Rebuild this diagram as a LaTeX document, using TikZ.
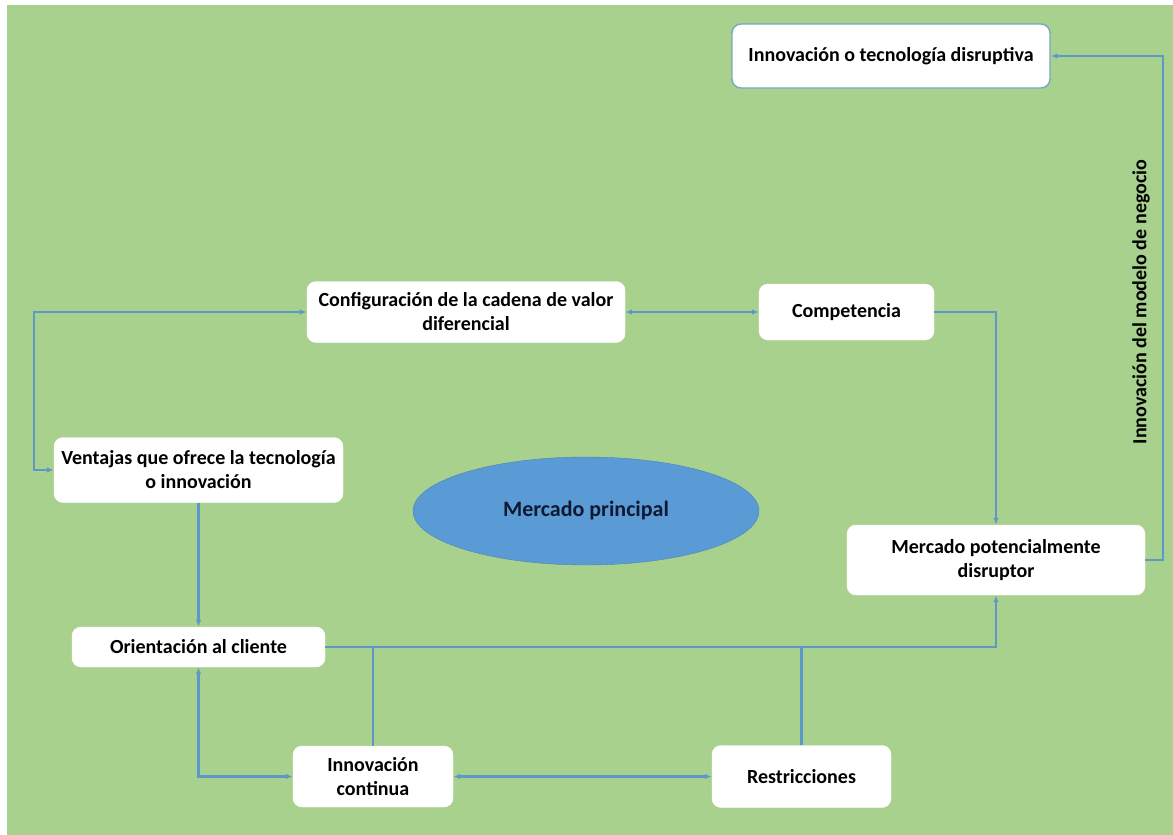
\documentclass[tikz,border=0pt]{standalone}
\usepackage{fontspec}
\setmainfont{Carlito}
\usetikzlibrary{arrows.meta, positioning, shapes.geometric}
\definecolor{bggreen}{RGB}{169,209,142}
\definecolor{linkblue}{RGB}{94,152,200}
\definecolor{ovalblue}{RGB}{91,155,213}
\definecolor{boxedge}{RGB}{120,165,195}
\definecolor{ovaltext}{RGB}{15,25,50}

\begin{document}
\begin{tikzpicture}[
    x=1pt, y=-1pt,
    block/.style={
        rectangle,
        draw=white,
        fill=white,
        rounded corners=9pt,
        inner sep=2pt,
        align=center,
        font=\bfseries\fontsize{20}{24}\selectfont
    },
    oval/.style={
        ellipse,
        draw=ovalblue!85!black,
        fill=ovalblue,
        text=ovaltext,
        font=\bfseries\fontsize{22}{26}\selectfont
    },
    arrow/.style={-{Latex[length=7pt,width=5.5pt]}, line width=2.2pt, color=linkblue},
    dblarrow/.style={{Latex[length=7pt,width=5.5pt]}-{Latex[length=7pt,width=5.5pt]}, line width=2.2pt, color=linkblue},
    link/.style={line width=2.2pt, color=linkblue}
]

% page and background
\fill[white] (0,0) rectangle (1173,835);
\fill[bggreen] (7,5) rectangle (1173,835);
\useasboundingbox (0,0) rectangle (1173,835);

\node[block, draw=boxedge, line width=1.4pt, minimum width=318pt, minimum height=64pt] (disruptiva) at (891,56) {Innovación o tecnología disruptiva};
\node[block, minimum width=318pt, minimum height=61pt] (config) at (466,312) {Configuración de la cadena de valor\\diferencial};
\node[block, minimum width=175pt, minimum height=56pt] (competencia) at (846.5,312) {Competencia};
\node[block, minimum width=289pt, minimum height=65pt] (ventajas) at (198.5,470) {Ventajas que ofrece la tecnología\\o innovación};
\node[oval, minimum width=346pt, minimum height=108pt] (principal) at (586,511) {Mercado principal};
\node[block, minimum width=298pt, minimum height=70pt] (potencial) at (996,560) {Mercado potencialmente\\disruptor};
\node[block, minimum width=253pt, minimum height=40pt] (orientacion) at (198.5,647) {Orientación al cliente};
\node[block, minimum width=160pt, minimum height=61pt] (continua) at (373,776.5) {Innovación\\continua};
\node[block, minimum width=179pt, minimum height=62pt] (restricciones) at (801.5,776.5) {Restricciones};

\node[rotate=90, font=\bfseries\fontsize{20}{24}\selectfont] (modelo) at (1141,302) {Innovación del modelo de negocio};

\draw[dblarrow] (ventajas.west) -- ++(-20,0) |- (config.west);
\draw[dblarrow] (config.east) -- (competencia.west);
\draw[arrow] (competencia.east) -| (potencial.north);
\draw[arrow] (potencial.east) -- ++(18,0) |- (disruptiva.east);
\draw[arrow] (ventajas.south) -- (orientacion.north);
\draw[dblarrow] (orientacion.south) |- (continua.west);
\draw[dblarrow] (continua.east) -- (restricciones.west);
\draw[arrow] (orientacion.east) -| (potencial.south);
\draw[link] (continua.north) -- (continua.north |- orientacion.east);
\draw[link] (restricciones.north) -- (restricciones.north |- orientacion.east);

\end{tikzpicture}
\end{document}
